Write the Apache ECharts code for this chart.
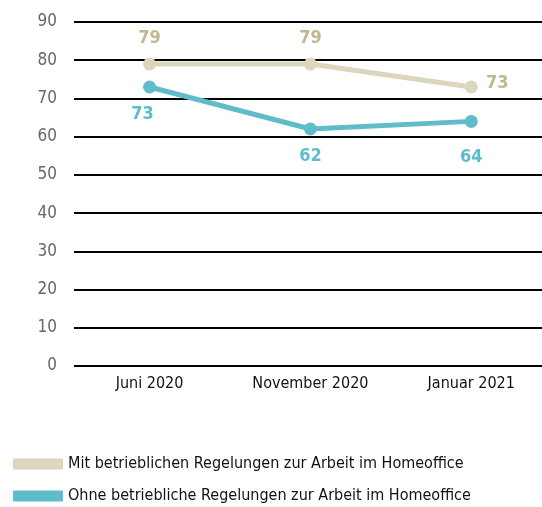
<!DOCTYPE html>
<html>
<head>
<meta charset="utf-8">
<script src="https://cdn.jsdelivr.net/npm/echarts@6/dist/echarts.min.js"></script>
<style>
  html, body { margin: 0; padding: 0; background: #fff; }
  #chart { width: 542px; height: 507px; }
</style>
</head>
<body>
<div id="chart"></div>
<script>
const categories = ["Juni 2020", "November 2020", "Januar 2021"];
const mitRegelung = [79, 79, 73];
const ohneRegelung = [73, 62, 64];
const seriesNames = [
  "Mit betrieblichen Regelungen zur Arbeit im Homeoffice",
  "Ohne betriebliche Regelungen zur Arbeit im Homeoffice"
];

const font = "'DejaVu Sans Condensed', 'Liberation Sans Narrow', sans-serif";
const beige = "#dcd6bd";
const teal = "#5fbccb";

const chart = echarts.init(document.getElementById("chart"));

// x as value axis so the points can sit off-centre like in the original
const toPoints = arr => arr.map((v, i) => [i, v]);

const legendBase = {
  left: 8,
  icon: "rect",
  itemWidth: 50,
  itemHeight: 11,
  textStyle: { color: "#111", fontSize: 16, fontFamily: font }
};

chart.setOption({
  animation: false,
  textStyle: { fontFamily: font },
  grid: { left: 74, right: 0, top: 22, bottom: 141 },
  xAxis: {
    type: "value",
    min: -0.47,
    max: 2.44,
    axisLine: { show: false },
    axisTick: { show: false },
    splitLine: { show: false },
    axisLabel: {
      customValues: [0, 1, 2],
      formatter: v => categories[Math.round(v)],
      color: "#111",
      fontSize: 16,
      fontFamily: font,
      margin: 10
    }
  },
  yAxis: {
    type: "value",
    min: 0,
    max: 90,
    interval: 10,
    axisLine: { show: false },
    axisTick: { show: false },
    axisLabel: { color: "#666", fontSize: 17, fontFamily: font, margin: 17 },
    splitLine: { lineStyle: { color: "#000", width: 2 } }
  },
  legend: [
    Object.assign({ top: 451, data: [seriesNames[0]] }, legendBase),
    Object.assign({ top: 483, data: [seriesNames[1]] }, legendBase)
  ],
  series: [
    {
      name: seriesNames[0],
      type: "line",
      data: toPoints(mitRegelung),
      symbol: "circle",
      symbolSize: 13,
      lineStyle: { color: beige, width: 5 },
      itemStyle: { color: beige },
      label: {
        show: true,
        position: "top",
        distance: 10,
        color: "#c2b88e",
        fontWeight: "bold",
        fontSize: 18,
        fontFamily: font,
        formatter: p => p.value[1]
      },
      labelLayout: p => (p.dataIndex === 2 ? { dx: 26, dy: 22 } : {}),
      z: 2
    },
    {
      name: seriesNames[1],
      type: "line",
      data: toPoints(ohneRegelung),
      symbol: "circle",
      symbolSize: 13,
      lineStyle: { color: teal, width: 5 },
      itemStyle: { color: teal },
      label: {
        show: true,
        position: "bottom",
        distance: 12,
        color: teal,
        fontWeight: "bold",
        fontSize: 18,
        fontFamily: font,
        formatter: p => p.value[1]
      },
      labelLayout: p => (p.dataIndex === 0 ? { dx: -7 } : p.dataIndex === 2 ? { dy: 8 } : {}),
      z: 3
    }
  ]
});
</script>
</body>
</html>
